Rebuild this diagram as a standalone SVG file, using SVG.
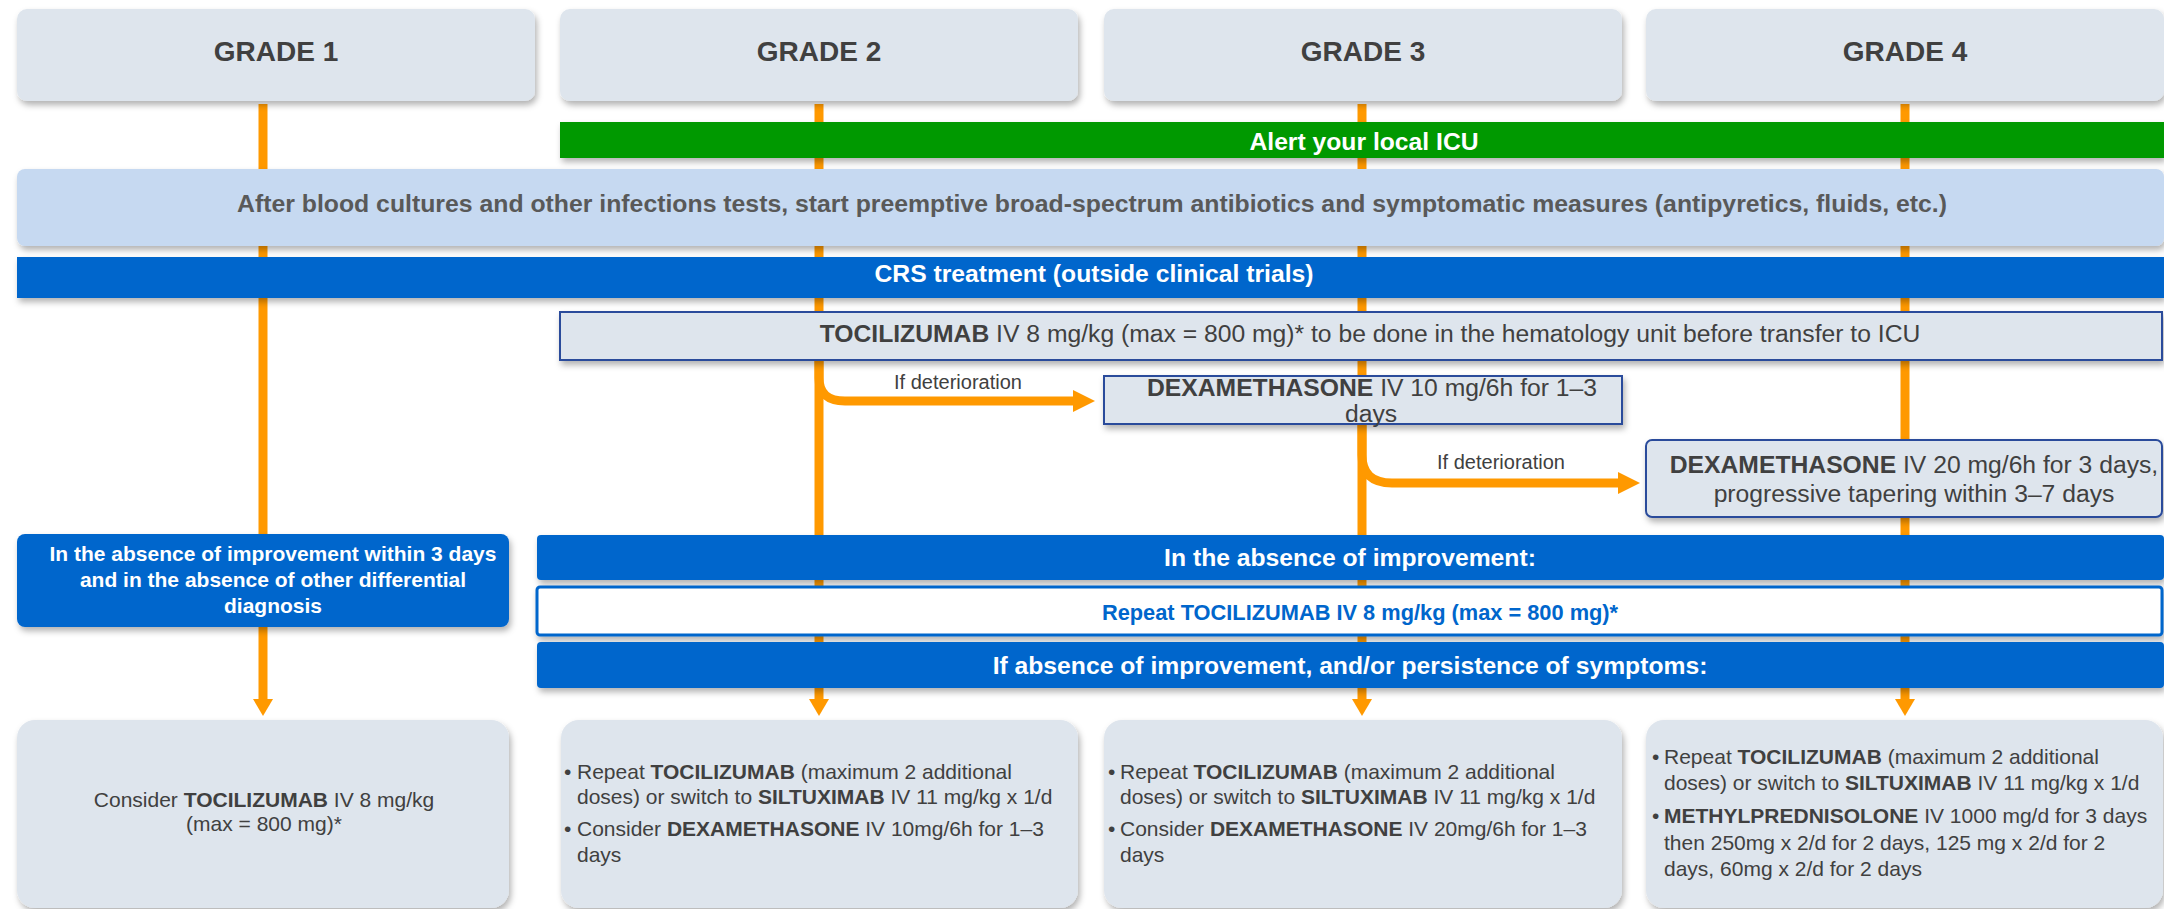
<svg xmlns="http://www.w3.org/2000/svg" width="2164" height="909" viewBox="0 0 2164 909">
  <defs>
    <filter id="sh" x="-5%" y="-30%" width="110%" height="170%">
      <feDropShadow dx="2" dy="4" stdDeviation="3" flood-color="#000" flood-opacity="0.3"/>
    </filter>
    <style>
      text { font-family: "Liberation Sans", Arial, sans-serif; }
      .grade { fill: #DEE5ED; filter: url(#sh); }
      .gtxt { font-size: 28px; font-weight: bold; fill: #404040; text-anchor: middle; }
      .bar { fill: #0066CC; filter: url(#sh); }
      .wbig { font-size: 24.7px; font-weight: bold; fill: #fff; text-anchor: middle; }
      .drug { fill: #DEE5ED; stroke: #2B4C9B; stroke-width: 2; filter: url(#sh); }
      .dtxt { font-size: 24.7px; fill: #404040; text-anchor: middle; }
      .b { font-weight: bold; }
      .note { font-size: 20px; fill: #404040; text-anchor: middle; }
      .final { fill: #DEE5ED; filter: url(#sh); }
      .body { font-size: 21px; fill: #404040; }
      .flow { stroke: #FF9900; stroke-width: 9; fill: none; }
      .branch { stroke: #FF9900; stroke-width: 9; fill: none; }
      .head { fill: #FF9900; }
    </style>
  </defs>
  <rect width="2164" height="909" fill="#fff"/>

  <!-- connectors: grade flow lines and deterioration branches -->
  <g id="connectors">
    <line class="flow" x1="263" y1="104" x2="263" y2="701"/>
    <polygon class="head" points="253,699 273,699 263,716"/>
    <line class="flow" x1="819" y1="104" x2="819" y2="701"/>
    <polygon class="head" points="809,699 829,699 819,716"/>
    <line class="flow" x1="1362" y1="104" x2="1362" y2="701"/>
    <polygon class="head" points="1352,699 1372,699 1362,716"/>
    <line class="flow" x1="1905" y1="104" x2="1905" y2="701"/>
    <polygon class="head" points="1895,699 1915,699 1905,716"/>

    <path class="branch" d="M819,360 V378 Q819,401 845,401 H1075"/>
    <polygon class="head" points="1073,390 1095,401 1073,412"/>
    <path class="branch" d="M1362,424 V455 Q1362,483 1392,483 H1620"/>
    <polygon class="head" points="1618,472 1640,483 1618,494"/>
  </g>

  <!-- grade headers -->
  <g id="grade1"><rect class="grade" x="17" y="9" width="518" height="92" rx="10"/><text class="gtxt" x="276" y="61">GRADE 1</text></g>
  <g id="grade2"><rect class="grade" x="560" y="9" width="518" height="92" rx="10"/><text class="gtxt" x="819" y="61">GRADE 2</text></g>
  <g id="grade3"><rect class="grade" x="1104" y="9" width="518" height="92" rx="10"/><text class="gtxt" x="1363" y="61">GRADE 3</text></g>
  <g id="grade4"><rect class="grade" x="1646" y="9" width="518" height="92" rx="10"/><text class="gtxt" x="1905" y="61">GRADE 4</text></g>

  <!-- shared steps -->
  <g id="alert-icu">
    <rect x="560" y="122" width="1604" height="36" fill="#009900" style="filter:url(#sh)"/>
    <text class="wbig" x="1364" y="150">Alert your local ICU</text>
  </g>
  <g id="antibiotics">
    <rect x="17" y="169" width="2147" height="77" rx="8" fill="#C6D9F1" style="filter:url(#sh)"/>
    <text x="1092" y="212" font-size="24.8" font-weight="bold" fill="#595959" text-anchor="middle">After blood cultures and other infections tests, start preemptive broad-spectrum antibiotics and symptomatic measures (antipyretics, fluids, etc.)</text>
  </g>
  <g id="crs-treatment">
    <rect class="bar" x="17" y="257" width="2147" height="41"/>
    <text class="wbig" x="1094" y="282">CRS treatment (outside clinical trials)</text>
  </g>
  <g id="tocilizumab">
    <rect class="drug" x="560" y="312" width="1602" height="48"/>
    <text class="dtxt" x="1370" y="342"><tspan class="b">TOCILIZUMAB</tspan> IV 8 mg/kg (max = 800 mg)* to be done in the hematology unit before transfer to ICU</text>
  </g>

  <!-- deterioration steps -->
  <g id="label-deterioration-1"><text class="note" x="958" y="389">If deterioration</text></g>
  <g id="dexamethasone-10">
    <rect class="drug" x="1104" y="376" width="518" height="48"/>
    <text class="dtxt" x="1372" y="396"><tspan class="b">DEXAMETHASONE</tspan> IV 10 mg/6h for 1–3</text>
    <text class="dtxt" x="1371" y="422">days</text>
  </g>
  <g id="label-deterioration-2"><text class="note" x="1501" y="469">If deterioration</text></g>
  <g id="dexamethasone-20">
    <rect class="drug" x="1646" y="440" width="516" height="77" rx="6"/>
    <text class="dtxt" x="1914" y="473"><tspan class="b">DEXAMETHASONE</tspan> IV 20 mg/6h for 3 days,</text>
    <text class="dtxt" x="1914" y="502">progressive tapering within 3–7 days</text>
  </g>

  <!-- absence of improvement -->
  <g id="grade1-no-improvement">
    <rect x="17" y="534" width="492" height="93" rx="8" fill="#0066CC" style="filter:url(#sh)"/>
    <text x="273" y="561" font-size="21" font-weight="bold" fill="#fff" text-anchor="middle">In the absence of improvement within 3 days</text>
    <text x="273" y="587" font-size="21" font-weight="bold" fill="#fff" text-anchor="middle">and in the absence of other differential</text>
    <text x="273" y="613" font-size="21" font-weight="bold" fill="#fff" text-anchor="middle">diagnosis</text>
  </g>
  <g id="no-improvement">
    <rect class="bar" x="537" y="535" width="1627" height="45" rx="4"/>
    <text class="wbig" x="1350" y="566">In the absence of improvement:</text>
  </g>
  <g id="repeat-tocilizumab">
    <rect x="537" y="587" width="1625" height="48" rx="3" fill="#fff" stroke="#0066CC" stroke-width="3" style="filter:url(#sh)"/>
    <text x="1360" y="620" font-size="21.8" font-weight="bold" fill="#0066CC" text-anchor="middle">Repeat TOCILIZUMAB IV 8 mg/kg (max = 800 mg)*</text>
  </g>
  <g id="persistence">
    <rect class="bar" x="537" y="642" width="1627" height="46" rx="4"/>
    <text class="wbig" x="1350" y="674">If absence of improvement, and/or persistence of symptoms:</text>
  </g>

  <!-- final measures per grade -->
  <g id="final-grade1">
    <rect class="final" x="17" y="720" width="492" height="188" rx="18"/>
    <text class="body" x="264" y="807" text-anchor="middle">Consider <tspan class="b">TOCILIZUMAB</tspan> IV 8 mg/kg</text>
    <text class="body" x="264" y="831" text-anchor="middle">(max = 800 mg)*</text>
  </g>
  <g id="final-grade2">
    <rect class="final" x="561" y="720" width="517" height="188" rx="18"/>
    <text class="body" x="564" y="779">•</text>
    <text class="body" x="577" y="779">Repeat <tspan class="b">TOCILIZUMAB</tspan> (maximum 2 additional</text>
    <text class="body" x="577" y="804">doses) or switch to <tspan class="b">SILTUXIMAB</tspan> IV 11 mg/kg x 1/d</text>
    <text class="body" x="564" y="836">•</text>
    <text class="body" x="577" y="836">Consider <tspan class="b">DEXAMETHASONE</tspan> IV 10mg/6h for 1–3</text>
    <text class="body" x="577" y="862">days</text>
  </g>
  <g id="final-grade3">
    <rect class="final" x="1104" y="720" width="518" height="188" rx="18"/>
    <text class="body" x="1108" y="779">•</text>
    <text class="body" x="1120" y="779">Repeat <tspan class="b">TOCILIZUMAB</tspan> (maximum 2 additional</text>
    <text class="body" x="1120" y="804">doses) or switch to <tspan class="b">SILTUXIMAB</tspan> IV 11 mg/kg x 1/d</text>
    <text class="body" x="1108" y="836">•</text>
    <text class="body" x="1120" y="836">Consider <tspan class="b">DEXAMETHASONE</tspan> IV 20mg/6h for 1–3</text>
    <text class="body" x="1120" y="862">days</text>
  </g>
  <g id="final-grade4">
    <rect class="final" x="1646" y="720" width="517" height="188" rx="18"/>
    <text class="body" x="1652" y="764">•</text>
    <text class="body" x="1664" y="764">Repeat <tspan class="b">TOCILIZUMAB</tspan> (maximum 2 additional</text>
    <text class="body" x="1664" y="790">doses) or switch to <tspan class="b">SILTUXIMAB</tspan> IV 11 mg/kg x 1/d</text>
    <text class="body" x="1652" y="823">•</text>
    <text class="body" x="1664" y="823"><tspan class="b">METHYLPREDNISOLONE</tspan> IV 1000 mg/d for 3 days</text>
    <text class="body" x="1664" y="850">then 250mg x 2/d for 2 days, 125 mg x 2/d for 2</text>
    <text class="body" x="1664" y="876">days, 60mg x 2/d for 2 days</text>
  </g>
</svg>
